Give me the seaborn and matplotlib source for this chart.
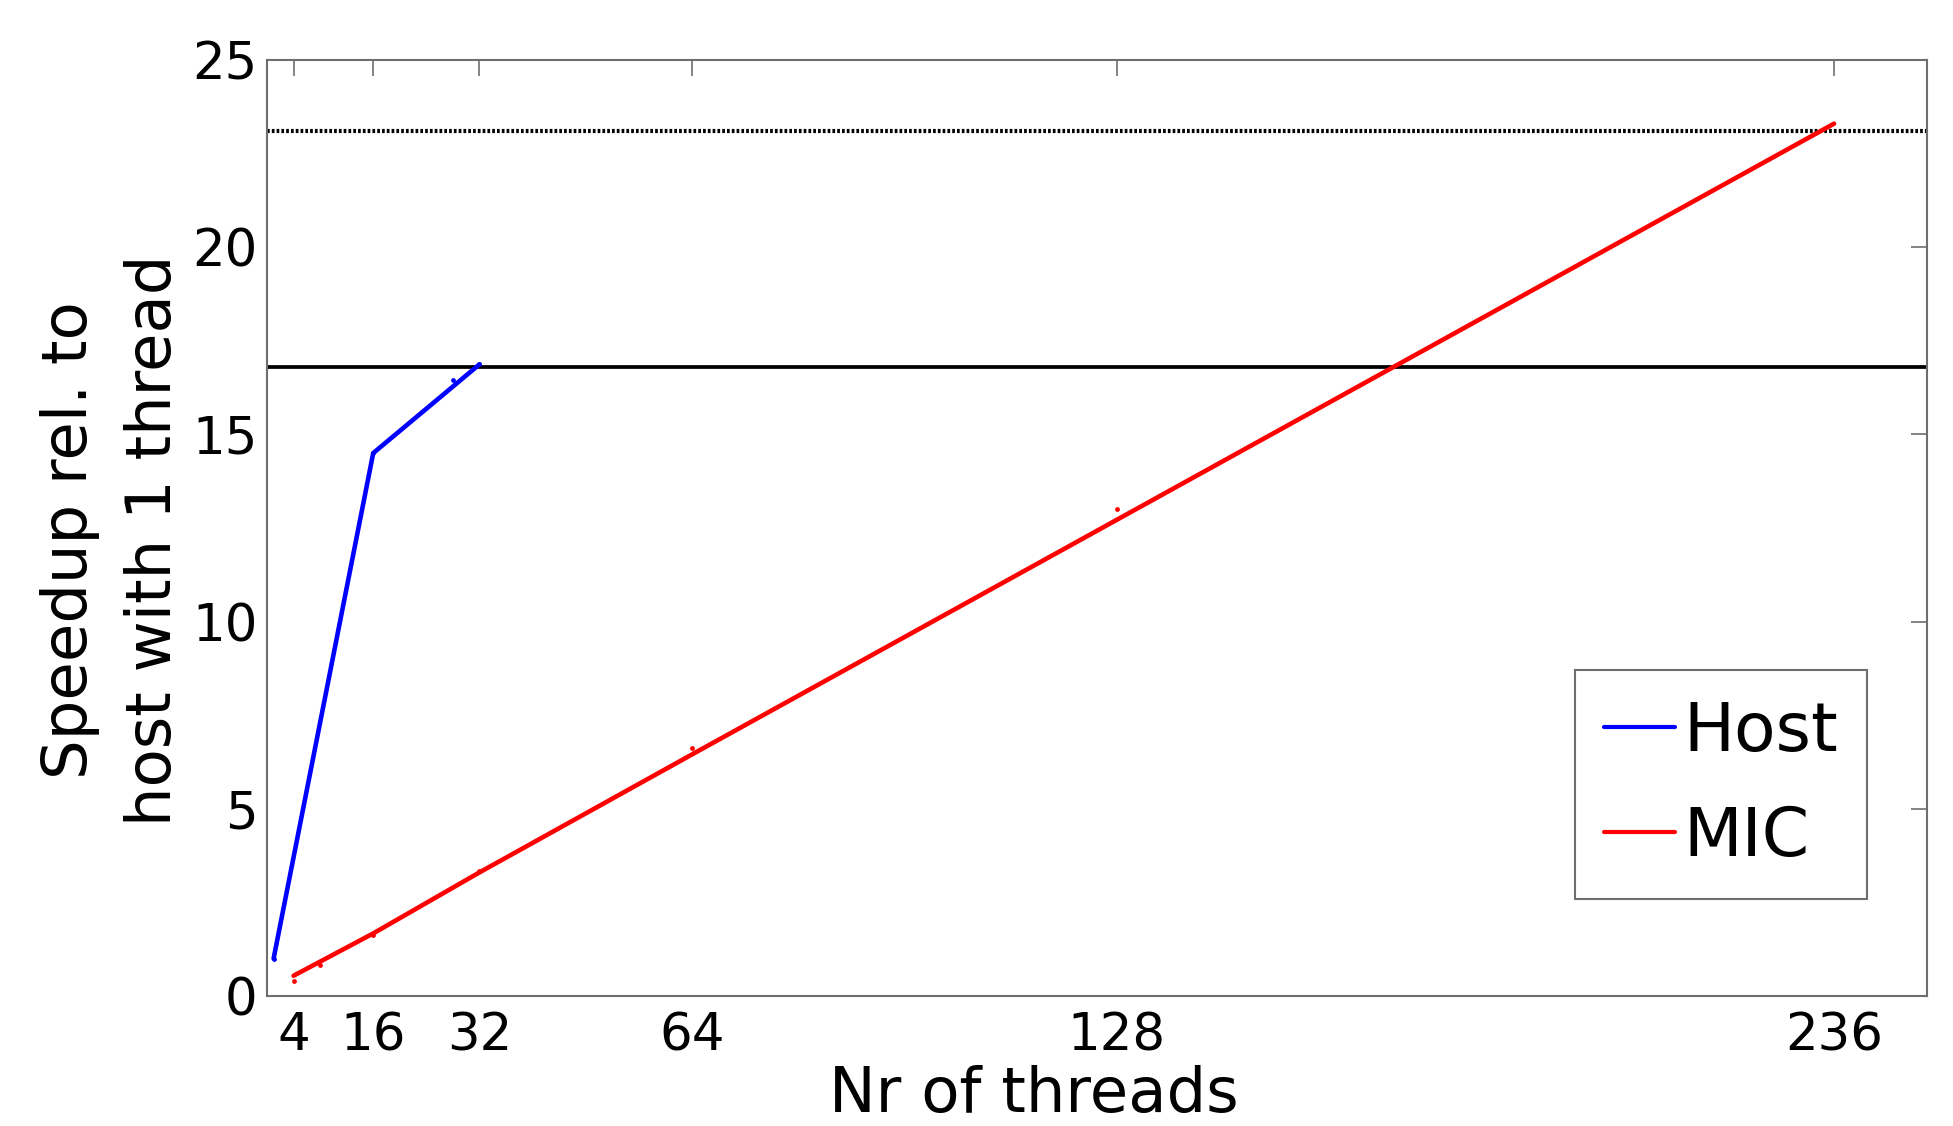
import matplotlib
matplotlib.use("Agg")
import matplotlib.pyplot as plt
import seaborn as sns

# data
host_threads = [1, 16, 32]
host_speedup = [1.0, 14.5, 16.87]
host_dot_threads = [1, 16, 28, 32]
host_dot_speedup = [0.98, 14.5, 16.44, 16.88]

mic_threads = [4, 16, 32, 64, 128, 236]
mic_speedup = [0.54, 1.67, 3.3, 6.45, 12.72, 23.3]
mic_dot_threads = [4, 8, 16, 32, 64, 128]
mic_dot_speedup = [0.40, 0.82, 1.64, 3.34, 6.63, 13.0]

ref_solid = 16.8    # black solid reference
ref_dotted = 23.11  # black dotted reference

x_ticks = [4, 16, 32, 64, 128, 236]
y_ticks = [0, 5, 10, 15, 20, 25]

sns.set_style("white")
plt.rcParams['font.family'] = ['DejaVu Sans']
plt.rcParams['text.color'] = 'black'
plt.rcParams['axes.labelcolor'] = 'black'

fig, ax = plt.subplots(figsize=(19.53, 11.26), dpi=100)
fig.subplots_adjust(left=0.1367, right=0.9867, bottom=0.1155, top=0.9467)

ax.axhline(ref_solid, color='black', lw=2.7, zorder=1)
ax.axhline(ref_dotted, color='black', lw=3.0, linestyle=(0, (0.65, 0.5)), zorder=1)

sns.lineplot(x=host_threads, y=host_speedup, color='#0000ff', lw=3.3, label='Host', ax=ax)
sns.lineplot(x=mic_threads, y=mic_speedup, color='#ff0000', lw=3.3, label='MIC', ax=ax)
sns.scatterplot(x=host_dot_threads, y=host_dot_speedup, color='#0000ff', s=12,
                linewidth=0, ax=ax, legend=False)
sns.scatterplot(x=mic_dot_threads, y=mic_dot_speedup, color='#ff0000', s=12,
                linewidth=0, ax=ax, legend=False)

ax.set_xlim(0, 250)
ax.set_ylim(0, 25)
ax.set_xticks(x_ticks)
ax.set_yticks(y_ticks)

spine_col = '#6e6e6e'
for sp in ax.spines.values():
    sp.set_visible(True)
    sp.set_color(spine_col)
    sp.set_linewidth(1.5)

ax.tick_params(direction='in', length=11.5, width=1.2, color=spine_col,
               top=True, right=True, labelsize=37, labelcolor='black')
ax.tick_params(axis='x', pad=11)
ax.tick_params(axis='y', pad=7)

ax.set_xlabel('Nr of threads', fontsize=45)
ax.xaxis.set_label_coords(0.462, -0.074)
ax.set_ylabel('Speedup rel. to\nhost with 1 thread', fontsize=45, linespacing=1.5)
ax.yaxis.set_label_coords(-0.05, 0.487)

leg = ax.legend(loc='upper left', bbox_to_anchor=(0.788, 0.348), borderaxespad=0,
                fontsize=49, handlelength=1.05, handletextpad=0.12, borderpad=0.42,
                labelspacing=0.58, fancybox=False, framealpha=1, edgecolor=spine_col)
leg.get_frame().set_linewidth(1.5)
for line in leg.get_lines():
    line.set_linewidth(3.0)

fig.savefig('out.png', dpi=100)
